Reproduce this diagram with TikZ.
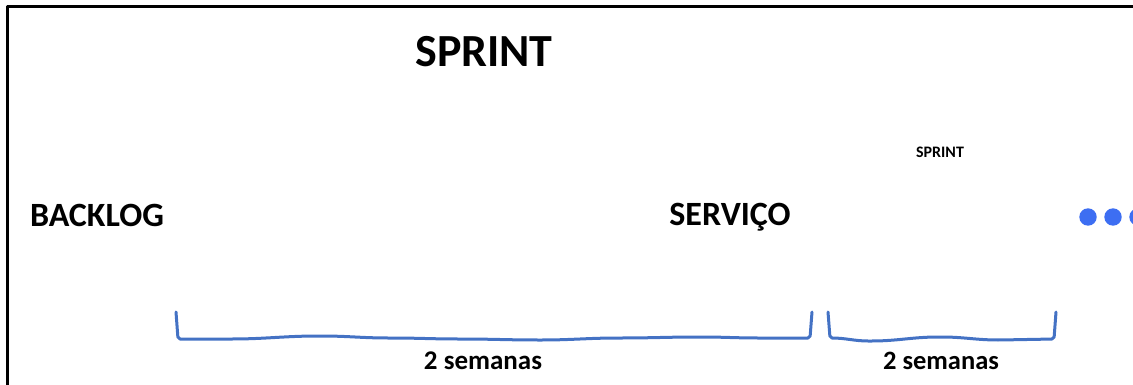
\documentclass[tikz,border=0pt]{standalone}
\usepackage{fontspec}
\setmainfont{Carlito}
\definecolor{bracecol}{HTML}{4472C4}
\definecolor{dotcol}{HTML}{3D6EF2}
\begin{document}
\begin{tikzpicture}[x=1pt, y=-1pt, line join=round, line cap=round,
	lbl/.style={anchor=base, inner sep=0pt, font=\bfseries\fontsize{#1}{#1}\selectfont},
	brace/.style={bracecol, line width=3pt, rounded corners=2pt}]
		\useasboundingbox (0,0) rectangle (1133,385);
		\draw[line width=3pt] (7,385)--(7,7)--(1133,7);
		% labels
		\node[lbl=46] (sprint) at (484,66.7) {SPRINT};
		\node[lbl=16] (sprintb) at (940,158) {SPRINT};
		\node[lbl=34] (backlog) at (97,226.7) {BACKLOG};
		\node[lbl=34] (servico) at (730,225) {SERVIÇO};
		\node[lbl=27] (semA) at (483,369.5) {2 semanas};
		\node[lbl=26.5] (semB) at (941,369.5) {2 semanas};
		% brackets
		\draw[brace] (176,312)--(178,339) to[out=0,in=180] (230,339) to[out=0,in=180] (320,336)
			to[out=0,in=180] (390,338) to[out=0,in=180] (460,339) to[out=0,in=180] (540,340)
			to[out=0,in=180] (620,338) to[out=0,in=180] (700,337) to[out=0,in=180] (760,338)
			--(810,338)--(812,312);
		\draw[brace] (828,312)--(830,338) to[out=0,in=180] (870,341) to[out=0,in=180] (940,337)
			to[out=0,in=180] (1000,340)--(1054,339)--(1056,312);
		% dots
		\foreach \x in {1088,1113,1138} \fill[dotcol] (\x,217) circle (8.7);
	\end{tikzpicture}
\end{document}
